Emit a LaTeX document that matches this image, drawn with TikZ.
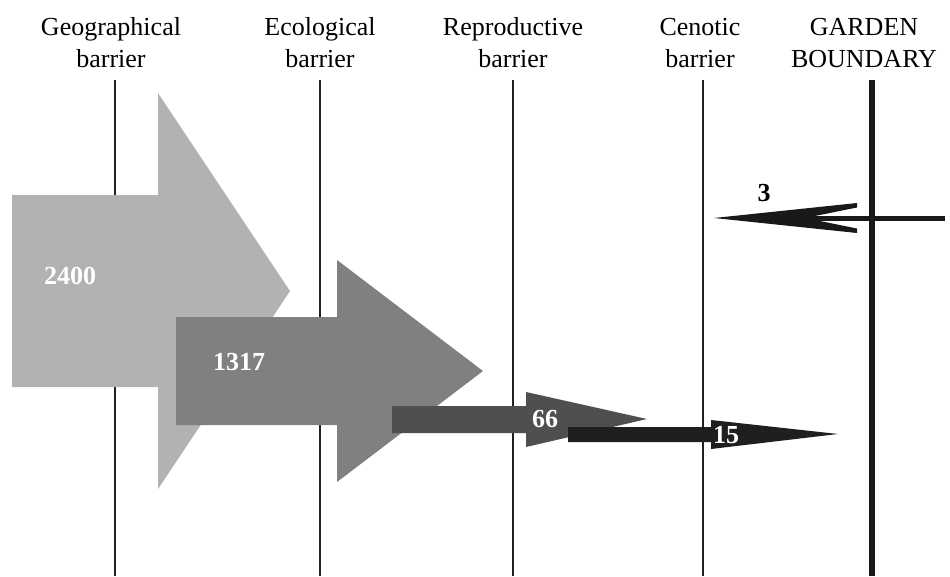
\documentclass[tikz,border=0pt]{standalone}
\usepackage{fontspec}
\setmainfont{Liberation Serif}
\begin{document}
\begin{tikzpicture}[x=1pt,y=-1pt,
  barline/.style={line width=2.6pt,color=black!88},
  gardenline/.style={line width=6pt,color=black!90},
  toplabel/.style={align=center,inner sep=0pt,anchor=base,font=\fontsize{26}{32}\selectfont},
  numlabel/.style={inner sep=0pt,anchor=center,text=white,font=\fontsize{26}{30}\selectfont\bfseries},
]
\useasboundingbox[fill=white] (0,0) rectangle (950,576);
% barrier lines
\foreach \n/\x in {geo/115,eco/320,rep/513,cen/703}{
  \coordinate (\n top) at (\x,80);
  \coordinate (\n bot) at (\x,576);
  \draw[barline] (\n top) -- (\n bot);
}
\coordinate (gar top) at (872,80);
\coordinate (gar bot) at (872,576);
\draw[gardenline] (gar top) -- (gar bot);
% labels
\node[toplabel] (lgeo) at (111,67) {Geographical\\barrier};
\node[toplabel] (leco) at (320,67) {Ecological\\barrier};
\node[toplabel] (lrep) at (513,67) {Reproductive\\barrier};
\node[toplabel] (lcen) at (700,67) {Cenotic\\barrier};
\node[toplabel] (lgar) at (864,67) {GARDEN\\BOUNDARY};
% arrows
\fill[black!30] (12,195) -- (158,195) -- (158,93) -- (290,291) -- (158,489) -- (158,387) -- (12,387) -- cycle;
\fill[black!50] (176,317) -- (337,317) -- (337,260) -- (483,371) -- (337,482) -- (337,425) -- (176,425) -- cycle;
\fill[black!69] (392,406) -- (526,406) -- (526,392) -- (647,419) -- (526,447) -- (526,433) -- (392,433) -- cycle;
\fill[black!88] (568,427) -- (711,427) -- (711,420) -- (838,434) -- (711,449) -- (711,442) -- (568,442) -- cycle;
% incoming arrow
\coordinate (in start) at (945,218);
\coordinate (in tip) at (714,218);
\draw[line width=5pt,black!90] (in start) -- (800,218);
\fill[black!90] (in tip) -- (857,203) -- (857,207.5) -- (805,218) -- (857,228.5) -- (857,233) -- cycle;
% numbers
\node[numlabel] (n2400) at (70,276) {2400};
\node[numlabel] (n1317) at (239,362) {1317};
\node[numlabel] (n66) at (545,419) {66};
\node[numlabel] (n15) at (726,435) {15};
\node[numlabel,text=black] (n3) at (764,193) {3};
\end{tikzpicture}
\end{document}
